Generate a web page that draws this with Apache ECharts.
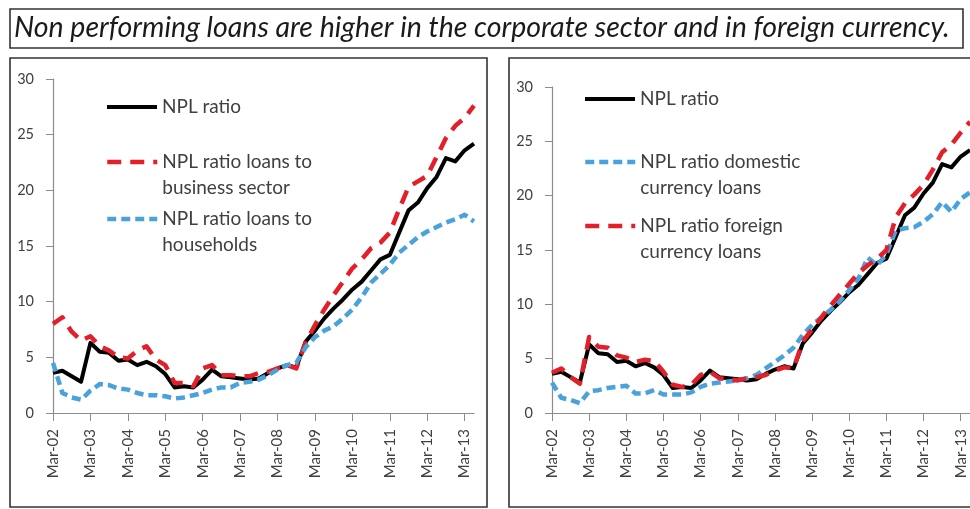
<!DOCTYPE html>
<html><head><meta charset="utf-8">
<script src="https://cdn.jsdelivr.net/npm/echarts@6/dist/echarts.min.js"></script>
<style>html,body{margin:0;padding:0;background:#fff}#c{width:970px;height:509px}</style>
</head><body><div id="c"></div>
<script>
const titleText = 'Non performing loans are higher in the corporate sector and in foreign currency.';
const quarters = ['Mar-02','Jun-02','Sep-02','Dec-02','Mar-03','Jun-03','Sep-03','Dec-03',
  'Mar-04','Jun-04','Sep-04','Dec-04','Mar-05','Jun-05','Sep-05','Dec-05',
  'Mar-06','Jun-06','Sep-06','Dec-06','Mar-07','Jun-07','Sep-07','Dec-07',
  'Mar-08','Jun-08','Sep-08','Dec-08','Mar-09','Jun-09','Sep-09','Dec-09',
  'Mar-10','Jun-10','Sep-10','Dec-10','Mar-11','Jun-11','Sep-11','Dec-11',
  'Mar-12','Jun-12','Sep-12','Dec-12','Mar-13','Jun-13'];
const yTicks = [0, 5, 10, 15, 20, 25, 30];

const nplRatio = [3.6,3.8,3.3,2.8,6.3,5.5,5.4,4.7,4.8,4.3,4.6,4.2,3.5,2.3,2.4,2.3,
  3.0,3.9,3.3,3.2,3.1,3.0,3.1,3.6,4.0,4.3,4.1,6.4,7.4,8.5,9.4,10.2,
  11.1,11.8,12.8,13.8,14.2,16.2,18.2,18.9,20.2,21.2,22.9,22.6,23.6,24.2];
const nplBusiness = [8.0,8.6,7.3,6.5,6.9,6.0,5.6,5.0,4.9,5.6,6.0,4.8,4.3,2.7,2.7,2.4,
  4.0,4.3,3.4,3.4,3.3,3.3,3.6,3.7,4.0,4.3,4.0,6.3,7.9,9.3,10.6,11.8,
  13.0,13.8,14.8,15.3,16.2,18.3,20.3,20.8,21.3,23.0,24.7,25.8,26.5,27.6];
const nplHouseholds = [4.5,1.8,1.4,1.2,2.0,2.6,2.5,2.2,2.1,1.8,1.6,1.6,1.5,1.3,1.4,1.6,
  1.8,2.1,2.3,2.3,2.7,2.8,3.0,3.4,3.9,4.3,4.5,5.9,6.8,7.4,7.8,8.5,
  9.3,10.4,11.7,12.5,13.3,14.4,15.1,15.8,16.3,16.7,17.1,17.4,17.8,17.2];
const nplDomestic = [2.8,1.4,1.2,0.9,2.0,2.1,2.3,2.4,2.5,1.8,1.8,2.1,1.7,1.7,1.7,1.9,
  2.4,2.7,2.8,2.9,3.0,3.2,3.5,4.1,4.7,5.3,6.0,7.2,8.1,8.8,9.5,10.3,
  11.3,12.4,14.3,13.6,14.6,16.8,17.0,17.1,17.6,18.3,19.4,18.5,19.7,20.3];
const nplForeign = [3.7,4.1,3.3,2.7,7.0,6.1,6.0,5.3,5.1,4.7,4.9,4.8,3.8,2.6,2.4,2.6,
  3.5,3.8,3.2,3.1,3.0,3.2,3.3,3.5,3.9,4.2,4.1,6.6,7.7,8.8,9.9,10.9,
  11.9,12.9,13.6,14.2,15.0,18.0,19.3,20.1,21.0,22.4,24.0,24.7,25.8,26.8];

const names = {
  npl: 'NPL ratio',
  bus: 'NPL ratio loans to business sector',
  hh: 'NPL ratio loans to households',
  dom: 'NPL ratio domestic currency loans',
  frg: 'NPL ratio foreign currency loans'
};
const legendLabels = {};
legendLabels[names.npl] = 'NPL ratio';
legendLabels[names.bus] = '\nNPL ratio loans to\nbusiness sector';
legendLabels[names.hh] = '\nNPL ratio loans to\nhouseholds';
legendLabels[names.dom] = '\nNPL ratio domestic\ncurrency loans';
legendLabels[names.frg] = '\nNPL ratio foreign\ncurrency loans';

const FONT = 'Lato';
const AXIS = '#8c8c8c';
const TXT = '#404040';
const BLACK = '#000000', RED = '#e3202a', BLUE = '#4aa2dc';
const LH = 26;
const W_BLACK = 4, W_DASH = 4.5;

function xAxis(gi) {
  return {type: 'category', gridIndex: gi, data: quarters, boundaryGap: false,
    axisLine: {lineStyle: {color: AXIS, width: 1.2}},
    axisTick: {interval: 3, length: 8, lineStyle: {color: AXIS}},
    axisLabel: {interval: 3, rotate: 90, margin: 16, fontSize: 15, color: TXT, fontFamily: FONT},
    splitLine: {show: false}};
}
function yAxis(gi) {
  return {type: 'value', gridIndex: gi, min: yTicks[0], max: yTicks[yTicks.length - 1], interval: 5,
    axisLine: {show: true, lineStyle: {color: AXIS, width: 1.2}},
    axisTick: {show: true, length: 7, lineStyle: {color: AXIS}},
    axisLabel: {fontSize: 14.5, color: TXT, fontFamily: FONT, margin: 19},
    splitLine: {show: false}};
}
function line(name, data, gi, color, width, dash) {
  return {type: 'line', name: name, data: data, xAxisIndex: gi, yAxisIndex: gi,
    symbol: 'none', smooth: false, animation: false,
    lineStyle: {color: color, width: width, type: dash || 'solid', cap: 'butt', join: 'round'},
    itemStyle: {color: color}};
}
const redDash = [14, 9], blueDash = [9, 5];
// one legend per entry; the first text line is centred on "centerY"
function legend(left, centerY, name, width) {
  const multi = legendLabels[name].indexOf('\n') === 0;
  return {left: left, top: centerY - (multi ? LH * 1.5 : LH / 2), orient: 'vertical',
    itemWidth: 50, itemHeight: 24, padding: 0, selectedMode: false,
    data: [{name: name}],
    itemStyle: {opacity: 0},
    lineStyle: {width: width},
    formatter: function (n) { return legendLabels[n]; },
    textStyle: {fontFamily: FONT, fontSize: 19, color: TXT, lineHeight: LH}};
}

const chart = echarts.init(document.getElementById('c'));
chart.setOption({
  animation: false,
  backgroundColor: '#fff',
  title: {text: titleText, left: 14, top: 13, padding: 0,
    textStyle: {fontFamily: FONT, fontStyle: 'italic', fontWeight: 'normal', fontSize: 28.5, color: '#1a1a1a'}},
  graphic: [
    {type: 'rect', silent: true, z: -10, shape: {x: 10, y: 9, width: 953, height: 39},
      style: {fill: 'none', stroke: '#333', lineWidth: 1.6}},
    {type: 'rect', silent: true, z: -10, shape: {x: 10, y: 58, width: 477, height: 449},
      style: {fill: 'none', stroke: '#333', lineWidth: 1.6}},
    {type: 'rect', silent: true, z: -10, shape: {x: 509, y: 58, width: 480, height: 449},
      style: {fill: 'none', stroke: '#333', lineWidth: 1.6}}
  ],
  grid: [
    {left: 53, top: 79, width: 421, height: 334},
    {left: 552, top: 87, width: 421, height: 326}
  ],
  xAxis: [xAxis(0), xAxis(1)],
  yAxis: [yAxis(0), yAxis(1)],
  legend: [
    legend(105, 107, names.npl, W_BLACK),
    legend(105, 162, names.bus, W_DASH),
    legend(105, 219, names.hh, W_DASH),
    legend(583, 99, names.npl, W_BLACK),
    legend(583, 162, names.dom, W_DASH),
    legend(583, 226, names.frg, W_DASH)
  ],
  series: [
    line(names.npl, nplRatio, 0, BLACK, W_BLACK),
    line(names.bus, nplBusiness, 0, RED, W_DASH, redDash),
    line(names.hh, nplHouseholds, 0, BLUE, W_DASH, blueDash),
    line(names.npl, nplRatio, 1, BLACK, W_BLACK),
    line(names.dom, nplDomestic, 1, BLUE, W_DASH, blueDash),
    line(names.frg, nplForeign, 1, RED, W_DASH, redDash)
  ]
});
</script></body></html>
